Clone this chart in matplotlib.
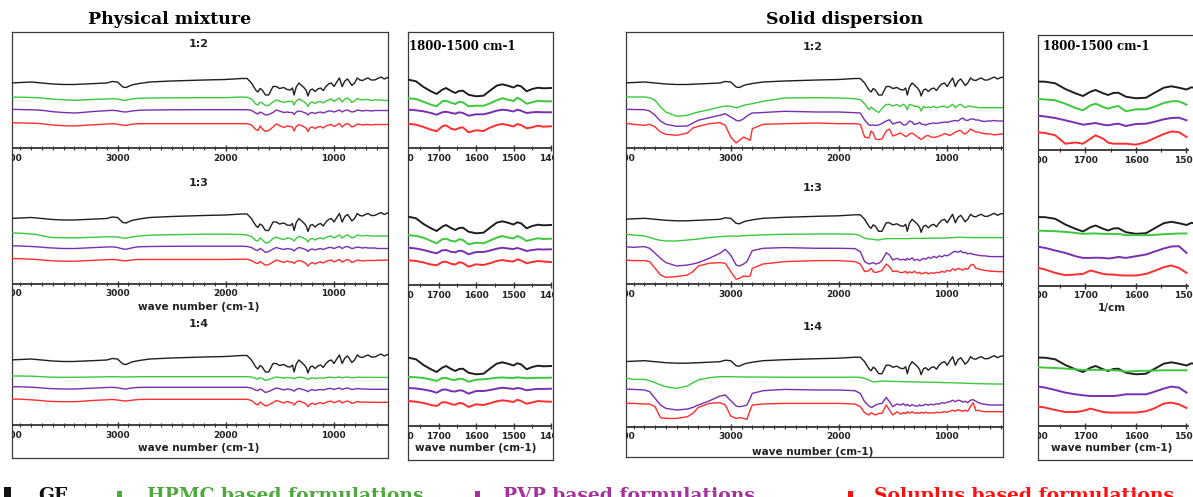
import matplotlib
matplotlib.use("Agg")
import matplotlib.pyplot as plt
from matplotlib.patches import Rectangle

W, H = 1193, 497
PANEL_H = 115  # px, one data unit = one pixel

# wavenumber grid of the full spectra (cm-1)
WN = [4000, 3900, 3800, 3750, 3700, 3650, 3600, 3500, 3400, 3350, 3300, 3200, 3100,
      3050, 3000, 2950, 2920, 2880, 2850, 2820, 2800, 2700, 2500, 2200, 2000, 1850,
      1800, 1760, 1720, 1700, 1680, 1660, 1630, 1600, 1560, 1530, 1500, 1460, 1430,
      1400, 1380, 1365, 1345, 1320, 1300, 1270, 1250, 1237, 1215, 1195, 1170, 1145,
      1120, 1095, 1070, 1045, 1020, 995, 970, 945, 920, 895, 870, 850, 830, 805, 780,
      755, 730, 705, 680, 650, 620, 590, 560, 530, 500, 450]
# grid of the close-up panels (cm-1)
ZWN = [1800, 1780, 1760, 1740, 1720, 1705, 1690, 1680, 1665, 1655, 1645, 1635, 1620,
       1600, 1580, 1565, 1545, 1530, 1515, 1500, 1490, 1480, 1465, 1450, 1435, 1420, 1400]

# ---- GF (pure drug), same trace in every panel ----
GF = [65, 65.5, 66, 65.5, 65, 64.5, 64, 63.5, 63.5, 63.8, 64, 64.5, 65, 66.5, 66, 61, 60.5,
      62.5, 63.5, 64, 64.5, 66, 67, 68, 68.5, 69.5,
      69.5, 65, 58, 56, 59.5, 58, 53, 53, 61.5, 61.5, 59.5, 60.5, 58.5,
      58, 60, 53, 61, 65, 63, 60, 57, 52, 58, 59, 56.5, 59, 60, 57.5, 61.5, 64, 65, 61.5,
      66, 70, 61.5, 67, 69, 66, 62.5, 65, 70, 68, 67.5, 69, 70, 68, 68, 69.5, 71, 69, 70.5, 71]
GF_Z = [68.5, 68.3, 66.7, 61, 56.7, 54, 58.3, 60, 56.7, 55, 57, 57.3, 53.3, 51.7, 52.3,
        56.7, 62.3, 63.7, 62.3, 60.5, 62.7, 61.7, 56.7, 59, 60.3, 59.7, 60]

# ---- physical mixture, full range ----
PM_HPMC_12 = [51, 50.8, 50.5, 50.3, 50, 49.3, 48.8, 48.3, 47.7, 47.8, 48.2, 48.7, 49, 49.3, 49,
              47.8, 47.7, 48.8, 49.2, 49.5, 49.7, 50, 50.2, 50.3, 50.3, 51,
              50.7, 49, 44, 43, 46, 45, 42.5, 42.5, 46, 48, 47, 45.5, 46.5,
              46.5, 46.5, 43, 47, 49, 48, 46, 44, 41.5, 45.5, 46, 44.5, 46, 46.5, 45, 47, 48,
              49, 46.5, 48.5, 50, 46, 49, 50, 48.5, 45.5, 47, 49.5, 48.5, 48, 48.5, 48.5,
              47.5, 48, 48, 48, 47.5, 47.5, 47.5]
PM_PVP_12 = [38.7, 38.5, 38.2, 38, 37.7, 37, 36.3, 35.5, 35, 35.3, 35.8, 36.7, 37.3, 37.7,
             37.2, 36.2, 36, 36.8, 37.2, 37.5, 37.7, 38, 38.2, 38.3, 38.3, 38.3,
             38.3, 37.7, 35, 34, 36, 35, 33, 33.5, 35.5, 38, 37, 35.5, 36,
             35.5, 35.5, 33.5, 36, 37, 36.5, 35.5, 34.5, 33, 35, 35.5, 34.5, 35.5, 36, 35,
             36, 37, 37, 36, 37, 38, 36, 37.5, 38, 37, 36, 36.5, 38, 37.5, 37, 37.5, 37.5,
             37, 37.5, 37.5, 37.5, 37.5, 37.5, 37.5]
PM_SOL_12 = [25.3, 25.1, 24.8, 24.6, 24.3, 23.6, 23, 22.3, 22, 22.3, 22.8, 23.3, 24, 24.3,
             23.8, 22.8, 22.7, 23.5, 24, 24.2, 24.3, 24.3, 24.3, 24.3, 24.3, 24.3,
             24.3, 23, 18.5, 17.5, 22, 19, 16.5, 17.5, 21, 24, 22.5, 20.5, 22,
             21.5, 21, 17, 21.5, 23.5, 22.5, 21, 19.5, 16.5, 20.5, 21, 19.5, 21, 21.5, 20,
             22, 23, 23.5, 21.5, 23, 24.5, 21, 23.5, 24.5, 23, 21, 22, 24, 23.5, 23, 23.5,
             23.5, 23, 23.5, 23.5, 23.5, 23.5, 23.5, 23.5]
PM_HPMC_13 = [50.7, 50.3, 49.5, 49, 47.7, 46.7, 46, 45.7, 45.7, 45.8, 46, 46.3, 46.7, 46.7,
              46.5, 45.5, 45.3, 46.3, 46.8, 47.2, 47.5, 48.3, 48.8, 49.3, 49.3, 49,
              48.5, 47, 43, 42.5, 45.5, 44, 40.5, 41, 45, 46.5, 45, 44, 45.5,
              45, 44, 42.5, 45, 47, 46.5, 45, 43.5, 41.5, 44.5, 45, 43.5, 45, 45.5, 44.5,
              46, 47, 47.5, 45.5, 47, 48.5, 45.5, 47.5, 48.5, 47.5, 45.5, 46.5, 48.5, 48,
              47.5, 48, 48, 47.5, 47.5, 47.5, 47.5, 47.5, 47.5, 47.5]
PM_PVP_13 = [37.7, 37.5, 37, 36.7, 36.3, 35.8, 35.5, 35, 35, 35.2, 35.5, 36, 36.5, 36.7, 36,
             34.5, 34.3, 35.3, 36, 36.5, 36.7, 37, 37.2, 37.3, 37.3, 37.3,
             37, 36, 33.5, 33, 35, 34, 31, 32, 34.5, 36, 35, 34, 35,
             34.5, 34, 32.5, 34.5, 36, 35.5, 34.5, 33.5, 32, 34, 34.5, 33.5, 34.5, 35, 34,
             35, 36, 36, 35, 36, 37, 35, 36.5, 37, 36, 35, 35.5, 36.5, 36, 35.5, 36, 35.5,
             35.5, 35.5, 35, 35, 35, 35, 35]
PM_SOL_13 = [25, 24.8, 24.3, 24, 23.5, 23, 22.7, 22.3, 22.3, 22.5, 22.8, 23.3, 23.8, 24,
             23.7, 22.8, 22.7, 23.3, 23.7, 23.9, 24, 24, 24, 24, 24, 24.3,
             24.3, 23, 20.5, 20, 22, 20.5, 18.3, 19, 21.5, 23.5, 22.5, 21, 22.5,
             21.5, 21.5, 20, 22, 23, 22.5, 21, 19.5, 17.3, 20, 21, 19.5, 21, 21.5, 20.5,
             22, 23, 23.5, 21.5, 23, 24, 21.5, 23, 24, 23, 21, 22, 23.5, 23, 22.5, 23, 23,
             23, 23, 23.3, 23.3, 23.3, 23.3, 23.3]
PM_HPMC_14 = [49, 49, 48.8, 48.6, 48.3, 48, 47.8, 47.7, 47.7, 47.8, 47.9, 48, 48.2, 48.3,
              48.2, 48, 48, 48.1, 48.2, 48.2, 48.3, 48.3, 48.3, 48.3, 48.3, 48.3,
              48.3, 48, 46.5, 45.7, 47.5, 46.5, 44.5, 45.5, 47, 48, 47.5, 47, 47.5,
              47.3, 47, 46.2, 47.3, 47.8, 47.6, 47.2, 46.6, 45.5, 46.8, 47, 46.6, 47, 47.2,
              46.8, 47.3, 47.8, 47.8, 47.2, 47.6, 48, 47.2, 47.7, 48, 47.6, 47.2, 47.4,
              47.8, 47.7, 47.6, 47.7, 47.7, 47.6, 47.6, 47.6, 47.6, 47.6, 47.6, 47.6]
PM_PVP_14 = [38.3, 38.2, 37.8, 37.5, 37, 36.6, 36.3, 36, 36, 36.2, 36.5, 37, 37.5, 37.7,
             37.3, 36.2, 36, 36.8, 37.2, 37.5, 37.6, 37.7, 37.7, 37.7, 37.7, 37.7,
             37.7, 37, 34.8, 34.3, 36, 35, 32.5, 33.5, 35.5, 37, 36.3, 35, 36,
             35.5, 35, 33.8, 35.5, 36.5, 36, 35, 34.3, 33.3, 35, 35.3, 34.5, 35.2, 35.5,
             35, 35.8, 36.5, 36.5, 35.5, 36.3, 37, 35.5, 36.5, 37, 36.3, 35.5, 35.8, 36.5,
             36.2, 36, 36, 35.8, 35.7, 35.7, 35.7, 35.7, 35.7, 35.7, 35.7]
PM_SOL_14 = [26, 25.8, 25.2, 24.8, 24.3, 23.8, 23.5, 23.3, 23.3, 23.5, 24, 24.7, 25.2, 25.5,
             25, 24.2, 24, 24.6, 25, 25.3, 25.5, 25.7, 25.7, 25.7, 25.7, 25.7,
             25.7, 24.5, 21, 20, 23, 21.5, 19, 20, 22.5, 24.5, 23.5, 22, 23.5,
             22.5, 22, 20, 22.5, 24, 23.3, 22, 20.5, 18.3, 21, 21.8, 20.5, 21.8, 22.3,
             21.3, 22.5, 23.5, 23.8, 22.3, 23.3, 24.3, 22, 23.3, 24, 23, 21.5, 22.3, 23.5,
             23, 22.8, 23, 22.8, 22.7, 22.7, 22.7, 22.7, 22.7, 22.7, 22.7]

# ---- physical mixture, 1800-1400 close-up ----
PM_HPMC_12_Z = [50, 49.7, 49, 46.3, 43.3, 41.7, 46.7, 47.3, 45, 44, 46.3, 45.7, 41.7, 42.3,
                42.3, 44.3, 47.7, 49.7, 48.3, 47, 50.3, 48.3, 44.3, 45.7, 47.3, 46.7, 46.7]
PM_PVP_12_Z = [38.5, 38.3, 37.7, 36.7, 35, 33.3, 35.7, 36.3, 35, 34.3, 35.7, 35, 32.3, 33.7,
               33.7, 35, 37.3, 38.3, 37.7, 36.5, 38.3, 37.3, 35, 35.7, 36, 35.7, 35.7]
PM_SOL_12_Z = [24.5, 24.3, 23.3, 21, 18.3, 16.7, 21.7, 22.7, 19, 18.3, 20, 20.7, 15.7, 17.7,
               17, 20, 23, 24, 23, 21.5, 24, 23, 19.7, 20.7, 22.3, 21.3, 21.7]
PM_HPMC_13_Z = [50, 50, 49, 47.3, 44, 41.7, 45.7, 46.3, 44, 43.5, 45.7, 45, 40.7, 42.3, 41.7,
                44, 47.3, 49, 47.5, 46.5, 49, 47.5, 44, 45.5, 46.7, 46, 46.3]
PM_PVP_13_Z = [37.5, 37.3, 36.5, 35, 33, 31.7, 34.7, 35, 33, 32.7, 34.3, 33.8, 30.7, 33, 33,
               34.2, 36.3, 37.3, 36.5, 36, 37, 36, 34, 35, 35.7, 35.5, 35.7]
PM_SOL_13_Z = [25, 24.7, 24, 22.5, 20.5, 19.7, 23, 23.3, 21, 20.5, 22.7, 22, 18.3, 20.7, 20,
               21.5, 24, 25, 24, 23.5, 25.7, 24.5, 21.7, 23, 24, 23.5, 23]
PM_HPMC_14_Z = [49, 49, 48.7, 48, 46.5, 45, 48, 48, 46.3, 46, 47.3, 47, 44.3, 46.3, 46.7,
                47.3, 48.3, 48.5, 48.2, 48, 48.7, 48.3, 47.7, 48, 48.2, 48.2, 48.3]
PM_PVP_14_Z = [38, 38, 37.5, 36.5, 35, 33.3, 36.3, 36.5, 34.7, 34.5, 35.7, 35.3, 32.3, 35,
               35, 35.8, 37.3, 38.3, 37.7, 37, 38, 37.5, 35.7, 36.5, 37.2, 37, 37.3]
PM_SOL_14_Z = [25, 25, 24.3, 23, 21, 20, 23.7, 23.7, 21.7, 21.3, 23, 22.5, 19, 21.7, 21,
               22.5, 24.7, 25.7, 25, 24, 26.3, 25, 22.3, 23.5, 25, 24.5, 24.3]

# ---- solid dispersion, full range ----
SD_HPMC_12 = [51, 51, 51, 50.3, 47.7, 41, 36, 31.7, 32.7, 34.5, 36, 38.3, 41, 42, 41.7, 40.3,
              41, 42.7, 43.3, 44, 44.3, 46.7, 50, 50.3, 50, 49.3,
              48.3, 44.3, 38.3, 41, 39, 37.5, 35.5, 39.3, 43.5, 43.7, 42, 43.5, 41.5,
              43.7, 41.7, 38.3, 43.7, 42.7, 41.7, 41.7, 40.3, 37, 41.7, 40.3, 41, 40.3, 41.7,
              40.3, 41, 41.7, 41.7, 40.3, 41.7, 43.7, 40.3, 42.7, 43.7, 41.7, 40.3, 41.7,
              41.7, 41, 41, 40.3, 40.3, 40.3, 40.3, 40.3, 40.3, 40.3, 40.3, 40.3]
SD_PVP_12 = [38.7, 38.5, 38.3, 37, 32.7, 27, 23.7, 21.7, 22, 25, 27.7, 30.3, 32.7, 34.3, 31,
             27.7, 27, 29.3, 32, 34, 35, 35.5, 36.7, 36, 36, 35.3,
             35, 28, 23, 22.7, 23, 22.5, 23, 24.5, 27, 28.3, 24, 25.5, 26,
             23, 23, 24.5, 27, 26, 23.5, 24.5, 25.5, 24, 23.5, 23, 24, 24.5, 25, 24.5, 25,
             25.5, 26, 25.5, 26.5, 27, 27.5, 27, 29, 30, 28, 27.5, 29, 29, 28, 28, 27, 26.5,
             27, 27, 27.5, 27, 27, 27]
SD_SOL_12 = [25, 23.7, 22.7, 23.7, 21, 16, 13.7, 12.7, 15, 20, 21.7, 24.3, 25.3, 22.7, 11, 5,
             7.7, 11, 9.3, 7.7, 19.3, 23.7, 24.3, 25, 24.3, 24.3,
             23.7, 11, 10, 17, 15, 9, 8.5, 9, 17, 19, 12, 13.5, 15,
             13, 11.5, 12, 14, 15, 13.5, 11, 9.5, 8.5, 10, 12, 12.5, 11, 10.5, 11, 12, 13,
             14.5, 13.5, 12.5, 14, 16, 17, 17.5, 15, 14, 16, 19, 17.5, 16, 16, 15, 14.5, 14,
             14, 13, 13.5, 14, 14]
SD_HPMC_13 = [50.3, 49.3, 48.3, 47, 45, 44, 43.3, 43.3, 44.3, 44.8, 45.3, 46.7, 47.7, 48,
              48.3, 48, 48.3, 48.6, 48.8, 49, 49, 49.5, 50, 50.3, 50.3, 50,
              48.7, 46, 45.3, 45.2, 45, 44.5, 44.3, 45, 45.7, 45.7, 45.7, 45.7, 45.7,
              45.7, 45.7, 45.6, 45.8, 45.9, 45.9, 45.9, 45.9, 45.8, 46, 46, 46, 46.1, 46.1,
              46.1, 46.2, 46.3, 46.3, 46.3, 46.5, 46.7, 46.8, 47, 47, 47, 46.9, 46.8, 46.8,
              46.7, 46.7, 46.7, 46.7, 46.7, 46.7, 46.7, 46.7, 46.7, 46.7, 46.7]
SD_PVP_13 = [37.7, 37, 37.7, 36, 31, 26, 21.7, 18.3, 19.3, 20.3, 21.7, 26, 31, 35, 29.3, 19.3,
             18.3, 20.3, 22.7, 29.3, 33.7, 36, 36.7, 36, 36, 35.7,
             32.7, 22.7, 20.3, 21, 21.7, 20.3, 21, 23.7, 31.7, 29.3, 24.3, 26, 24.3,
             25, 24, 26, 24.5, 26.5, 24, 25, 23.5, 24.5, 26, 25, 27, 26, 28, 26.5, 28.5,
             27.5, 29, 28.5, 30, 32, 33, 32, 33.5, 31.5, 32, 30.5, 31, 30, 29.5, 29, 28.5,
             28.5, 28, 27.7, 27.7, 27.7, 27.7, 27.7]
SD_SOL_13 = [24.3, 23.7, 23.7, 22.7, 16, 9.3, 7, 7.7, 9.3, 12.7, 18.3, 21, 21.7, 21, 12.7, 5,
             6, 8.3, 7.7, 8.3, 16, 20.3, 22.7, 23.7, 23.7, 22.7,
             20.3, 12.7, 13.7, 16, 12.7, 11.7, 12.7, 13.7, 20.3, 17.7, 12.7, 13.3, 11.7,
             12, 13, 11, 12.5, 11.5, 13, 11, 12, 10.5, 11, 12, 10.5, 11.5, 11, 12, 11.5, 13,
             12, 14, 13, 15.5, 14, 16, 15, 14, 16, 15, 19, 20, 16, 15.5, 14.5, 14, 13.5, 13,
             13, 12.7, 12.7, 12.7]
SD_HPMC_14 = [49.3, 47.3, 47.3, 46, 44, 41.7, 40, 38.3, 40.7, 44, 46.7, 49, 50, 50, 50, 49.8,
              49.8, 49.8, 49.7, 49.7, 49.7, 49.6, 49.5, 49.5, 49.5, 49.5,
              49.3, 48.3, 46.7, 45.7, 44.7, 45, 45.3, 45.7, 45.5, 45.4, 45.3, 45.2, 45.1,
              45, 45, 45, 44.9, 44.9, 44.8, 44.8, 44.7, 44.7, 44.6, 44.6, 44.5, 44.5, 44.4,
              44.3, 44.3, 44.2, 44.1, 44, 44, 43.9, 43.8, 43.7, 43.7, 43.6, 43.5, 43.4,
              43.3, 43.2, 43.1, 43, 43, 42.9, 42.8, 42.8, 42.7, 42.7, 42.7, 42.7]
SD_PVP_14 = [37.7, 37.3, 36.7, 35, 28.3, 21.7, 18.3, 16.7, 17.7, 19.3, 21.7, 25.7, 30.7, 31.7,
             26, 20.7, 20, 20.7, 21.7, 28.3, 33.3, 36, 37.3, 36.7, 36.7, 36,
             33.3, 25, 20.7, 19.3, 20, 21.7, 22.7, 23.3, 29.3, 25, 20, 22.7, 21.7,
             23, 21, 22.5, 20.5, 22, 21, 20.5, 22, 20.8, 21.5, 22.5, 21.5, 22.5, 21.8, 23,
             22.5, 24, 23.5, 24.5, 25, 26.5, 25, 26.5, 26, 24.5, 25.5, 24, 26.5, 27, 25.5,
             24, 23, 22.5, 22, 21.7, 21.7, 21.7, 21.7, 21.7]
SD_SOL_14 = [23.3, 23.3, 22.7, 22.7, 20, 9, 8.3, 8.3, 10, 13.3, 19.3, 23.3, 24, 21.7, 10.7,
             8.3, 9, 8.3, 7.3, 16.7, 21.7, 22.7, 23.3, 23.3, 23.3, 22.7,
             20, 14, 11.7, 14, 12.7, 11.7, 13.3, 13.3, 21.7, 16.7, 11.7, 15, 12.7,
             14, 13, 15, 13.5, 15, 13.5, 14, 13.3, 14.5, 13.5, 14.5, 13.5, 14, 13.7, 14.5,
             14, 14.5, 15, 14.5, 15.5, 16.5, 15.5, 17, 16, 15.5, 16.5, 15.5, 20, 24, 16,
             16.5, 15.5, 15, 15, 15, 15, 15, 15, 15]

# ---- solid dispersion, 1800-1500 close-up ----
SD_HPMC_12_Z = [51.3, 50.5, 49.7, 46.3, 42, 39.7, 44.7, 46.3, 43, 41.3, 43, 44, 38.7, 40.7,
                40.7, 43, 47, 48.7, 48.7, 45.3]
SD_PVP_12_Z = [34.7, 33.5, 32, 29.7, 27.3, 25.3, 26.3, 27, 25.3, 24.7, 25.7, 26.3, 24, 26,
               26.3, 28, 30.7, 32, 32.3, 29.7]
SD_SOL_12_Z = [18, 17, 14.7, 6.3, 7.5, 6.3, 11.3, 14.7, 11.3, 7.3, 6.3, 6.3, 6.3, 5.3, 8,
               11.5, 16, 18.5, 17.8, 13]
SD_HPMC_13_Z = [55, 54.6, 54.3, 53.6, 52.6, 51.6, 52, 52, 51.6, 51.6, 51.6, 51.6, 50.3, 50.3,
                50.3, 50.6, 51.3, 51.6, 52, 52]
SD_PVP_13_Z = [39.3, 37.6, 35, 32.6, 29.3, 27.6, 27.6, 27.8, 27.6, 27, 27.6, 28.6, 27.6, 29.3,
               31, 33.6, 37, 39, 39.3, 32.6]
SD_SOL_13_Z = [18.3, 16, 12.6, 10.3, 11, 11.6, 15, 13.6, 11.6, 11, 11, 10.3, 10, 10, 11.6,
               14.3, 18.3, 20, 17.6, 12.6]
SD_HPMC_14_Z = [59, 58.4, 58, 57.4, 56.7, 56, 56.2, 56.2, 56, 56, 55.7, 55.5, 54.4, 55, 55.2,
                55.4, 55.7, 55.7, 55.7, 55.7]
SD_PVP_14_Z = [40, 38.4, 36, 33.4, 31.7, 30.7, 30, 30, 30, 30, 30, 30.5, 31.7, 31.7, 31.7, 34,
               37.4, 39.4, 38.4, 33.4]
SD_SOL_14_Z = [20, 18.4, 16, 14, 14, 15, 17.4, 16, 14, 13.5, 13.4, 13.4, 13.4, 13.4, 14.7,
               17.4, 22.4, 23.4, 21.7, 18]

RATIOS = ["1:2", "1:3", "1:4"]
LEGEND = ["GF", "HPMC based formulations", "PVP based formulations",
          "Soluplus based formulations"]
COLORS = ["#1e1e1e", "#3cc83c", "#7b2db0", "#ff2e2e"]
LEGEND_COLORS = ["#111111", "#4fa83d", "#a3329b", "#ff1010"]

PM_MAIN = [[GF, PM_HPMC_12, PM_PVP_12, PM_SOL_12],
           [GF, PM_HPMC_13, PM_PVP_13, PM_SOL_13],
           [GF, PM_HPMC_14, PM_PVP_14, PM_SOL_14]]
PM_ZOOM = [[GF_Z, PM_HPMC_12_Z, PM_PVP_12_Z, PM_SOL_12_Z],
           [GF_Z, PM_HPMC_13_Z, PM_PVP_13_Z, PM_SOL_13_Z],
           [GF_Z, PM_HPMC_14_Z, PM_PVP_14_Z, PM_SOL_14_Z]]
SD_MAIN = [[GF, SD_HPMC_12, SD_PVP_12, SD_SOL_12],
           [GF, SD_HPMC_13, SD_PVP_13, SD_SOL_13],
           [GF, SD_HPMC_14, SD_PVP_14, SD_SOL_14]]
SD_ZOOM = [[GF_Z, SD_HPMC_12_Z, SD_PVP_12_Z, SD_SOL_12_Z],
           [GF_Z, SD_HPMC_13_Z, SD_PVP_13_Z, SD_SOL_13_Z],
           [GF_Z, SD_HPMC_14_Z, SD_PVP_14_Z, SD_SOL_14_Z]]

fig = plt.figure(figsize=(W / 100, H / 100), dpi=100)


def rect(x0, y0, x1, y1):
    # pixel box (top-left origin) -> figure fraction
    return [x0 / W, 1 - y1 / H, (x1 - x0) / W, (y1 - y0) / H]


def add_box(x0, y0, x1, y1):
    box = fig.add_axes(rect(x0, y0, x1, y1), zorder=0)
    box.set_xticks([])
    box.set_yticks([])
    for s in box.spines.values():
        s.set_linewidth(0.9)
        s.set_color("#3a3a3a")
    return box


def add_panel(box, x0, x1, axis_y, xlim, major, minor, wn, series, lw):
    ax = fig.add_axes(rect(x0, axis_y - PANEL_H, x1, axis_y), zorder=2)
    ax.patch.set_visible(False)
    for color, vals in zip(COLORS, series):
        ax.plot(wn[:len(vals)], vals, color=color, lw=lw, solid_joinstyle="round")
    ax.set_xlim(*xlim)
    ax.set_ylim(0, PANEL_H)
    ax.set_yticks([])
    for s in ("top", "left", "right"):
        ax.spines[s].set_visible(False)
    ax.spines["bottom"].set_linewidth(1.3)
    ax.spines["bottom"].set_color("#333333")
    ax.set_xticks(major, labels=[str(m) for m in major], fontsize=6.5,
                  fontweight="bold", family="DejaVu Sans")
    ax.set_xticks(minor, minor=True)
    ax.tick_params(axis="x", which="major", direction="inout", length=5, width=1,
                   pad=1.5, color="#333333", labelcolor="#222222")
    ax.tick_params(axis="x", which="minor", direction="inout", length=3, width=0.8,
                   color="#333333")
    # everything is cut at the surrounding frame
    clip = box.bbox
    ax.spines["bottom"].set_clip_box(clip)
    for ln in ax.lines:
        ln.set_clip_box(clip)
    for t in ax.xaxis.get_major_ticks() + ax.xaxis.get_minor_ticks():
        for art in (t.label1, t.tick1line):
            art.set_clip_on(True)
            art.set_clip_box(clip)
    return ax


def xlabel(ax, text, below=23):
    ax.text(0.5, -below / PANEL_H, text, transform=ax.transAxes, ha="center",
            va="center", fontsize=7.5, fontweight="bold", family="DejaVu Sans",
            color="#222222")


def subtitle(ax, text, above):
    ax.text(0.5, above / PANEL_H, text, transform=ax.transAxes, ha="center",
            va="center", fontsize=8, fontweight="bold", family="DejaVu Sans",
            color="#222222")


def zoom_title(x, y):
    fig.text(x / W, 1 - y / H, "1800-1500 cm-1", fontsize=8.5, fontweight="bold",
             family="DejaVu Serif", va="center")


main_minor = list(range(500, 4001, 100))

# ---------------- Physical mixture ----------------
box = add_box(12, 32, 387.5, 458)
rows = [148, 283.5, 425]
tops = [104, 101, 101]
for i, ratio in enumerate(RATIOS):
    ax = add_panel(box, 9.5, 387.5, rows[i], (4000, 548), [4000, 3000, 2000, 1000],
                   main_minor, WN, PM_MAIN[i], 1.0)
    subtitle(ax, ratio, tops[i])
    if i > 0:
        xlabel(ax, "wave number (cm-1)")

zbox = add_box(408, 32, 553, 460)
zrows = [148, 285, 426]
for i in range(3):
    ax = add_panel(zbox, 401, 551, zrows[i], (1800, 1400), [1800, 1700, 1600, 1500, 1400],
                   list(range(1400, 1801, 50)), ZWN, PM_ZOOM[i], 1.4)
    if i == 2:
        xlabel(ax, "wave number (cm-1)", 22)
zoom_title(409, 47)

# ---------------- Solid dispersion ----------------
box = add_box(626, 32, 1003.3, 457)
rows = [148, 284.3, 426.7]
tops = [101, 96, 100]
for i, ratio in enumerate(RATIOS):
    ax = add_panel(box, 622.7, 1003.3, rows[i], (4000, 476), [4000, 3000, 2000, 1000],
                   main_minor, WN, SD_MAIN[i], 1.0)
    subtitle(ax, ratio, tops[i])
    if i == 2:
        xlabel(ax, "wave number (cm-1)", 25)

zbox = add_box(1038, 35, 1220, 460)
zrows = [150, 285.5, 426]
for i in range(3):
    ax = add_panel(zbox, 1035, 1188, zrows[i], (1800, 1497), [1800, 1700, 1600, 1500],
                   list(range(1500, 1801, 50)), ZWN, SD_ZOOM[i], 1.4)
    if i == 1:
        xlabel(ax, "1/cm", 22)
    if i == 2:
        xlabel(ax, "wave number (cm-1)", 22)
zoom_title(1043, 47)

# group titles
fig.text(170 / W, 1 - 20 / H, "Physical mixture", fontsize=12.5, fontweight="bold",
         family="DejaVu Serif", ha="center", va="center")
fig.text(845 / W, 1 - 20 / H, "Solid dispersion", fontsize=12.5, fontweight="bold",
         family="DejaVu Serif", ha="center", va="center")

# legend row along the bottom edge
text_x = [38, 147, 503, 874]
squares = [(4, 487, 7, 10), (117, 491, 5, 6), (475, 491, 5, 6), (848, 491, 5, 6)]
for label, c, tx, (sx, sy, sw, sh) in zip(LEGEND, LEGEND_COLORS, text_x, squares):
    fig.add_artist(Rectangle((sx / W, 1 - (sy + sh) / H), sw / W, sh / H,
                             transform=fig.transFigure, color=c, lw=0))
    fig.text(tx / W, 1 - 501 / H, label, fontsize=13.5, fontweight="bold",
             family="DejaVu Serif", color=c, va="baseline")

fig.savefig("out.png", dpi=100)
